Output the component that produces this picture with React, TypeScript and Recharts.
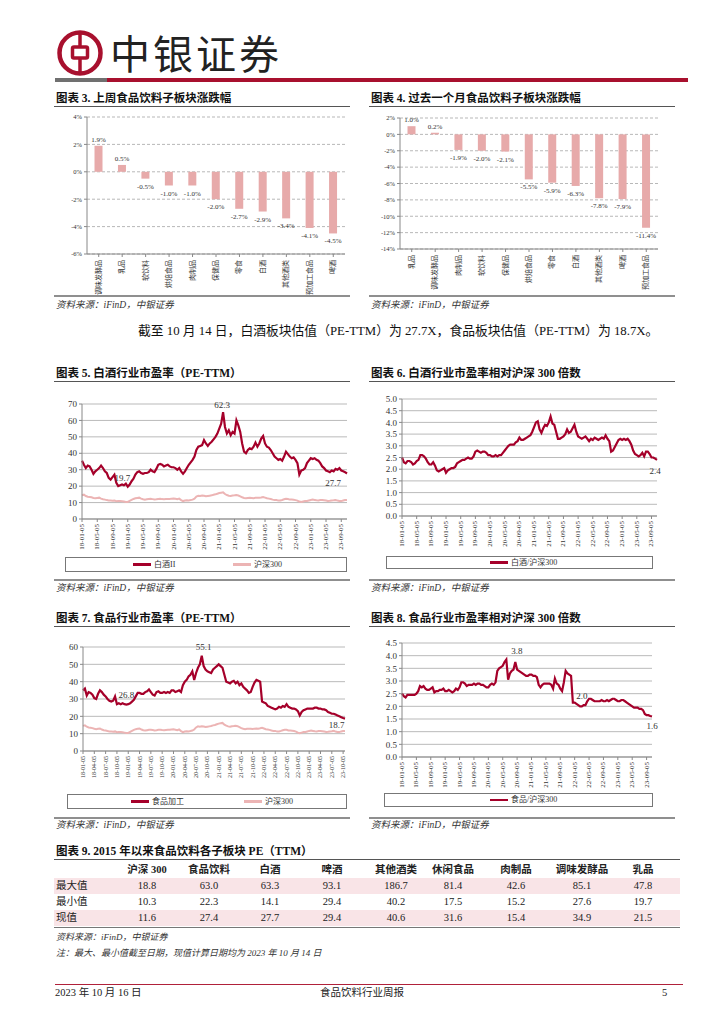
import React from "react";
import { BarChart, Bar, LineChart, Line, XAxis, YAxis, CartesianGrid } from "recharts";

const FONT = "'Liberation Serif', 'Noto Sans CJK SC', serif";
const RED = "#A8102E";
const LINE_RED = "#A5002A";
const LINE_PINK = "#ECB4B4";
const BAR_PINK = "#E7AAAA";

// 图表3 上周涨跌幅
const weekCats = ["调味发酵品", "乳品", "软饮料", "烘焙食品", "肉制品", "保健品", "零食", "白酒", "其他酒类", "预加工食品", "啤酒"];
const weekVals = [1.9, 0.5, -0.5, -1.0, -1.0, -2.0, -2.7, -2.9, -3.4, -4.1, -4.5];
const weekTicks = [-6, -4, -2, 0, 2, 4];

// 图表4 过去一个月涨跌幅
const monthCats = ["乳品", "调味发酵品", "肉制品", "软饮料", "保健品", "烘焙食品", "零食", "白酒", "其他酒类", "啤酒", "预加工食品"];
const monthVals = [1.0, 0.2, -1.9, -2.0, -2.1, -5.5, -5.9, -6.3, -7.8, -7.9, -11.4];
const monthTicks = [-14, -12, -10, -8, -6, -4, -2, 0, 2];

// 半月一个点, 2018-01 ~ 2023-10
const baijiuPE = [
  35.5, 33, 31, 32.5, 32, 30, 27.5, 29, 30, 31, 32.5, 31, 29, 28, 25, 24, 25.5, 27, 22, 20, 20.5, 21, 20.5, 21.5,
  19.7, 21, 23, 24.5, 27, 28.5, 29, 28, 27.5, 28, 28, 28.5, 30, 29, 28.5, 30.5, 33, 33.5, 33, 32, 32.5, 33, 32, 31.5,
  31.5, 31, 30, 31, 29, 27.5, 29, 31, 33, 34.5, 36, 38, 42, 44, 44.5, 45, 48, 46, 44.5, 46, 47, 48.5, 50, 52,
  55, 58, 65, 56, 52, 54, 51, 53, 52, 60, 57, 53, 46, 41, 40, 42, 43, 42.5, 44, 46.5, 44, 46, 49, 50.5,
  46, 44, 43.5, 42, 40, 38, 37, 36, 36.5, 35.5, 38, 41, 39.5, 38, 37, 37.5, 36, 34, 27, 29.5, 30, 31, 34, 35.5,
  37, 36.5, 37, 36, 35.5, 34, 32, 31, 29.5, 29, 28.5, 29.5, 29, 30.5, 30, 31, 29.5, 29, 28.5, 27.7,
];
const hs300PE = [
  14.5, 14.8, 14, 13.6, 13.4, 13.2, 12.8, 12.6, 12.8, 13, 12.4, 12, 11.8, 11.5, 11.3, 11.2, 11.1, 11.3, 10.8, 10.9, 11, 10.8, 10.6, 10.4,
  10.4, 11, 11.6, 12.2, 12.6, 12.8, 13, 12.4, 12, 11.8, 12, 12.2, 12.3, 12.1, 11.9, 12, 12.2, 12.3, 12.1, 12, 12.1, 12.2, 12.2, 12.4,
  12.5, 12.3, 12, 12.4, 11.5, 10.9, 11.2, 11.4, 11.3, 11.5, 11.8, 12.4, 13.6, 14.2, 14, 14.3, 14.1, 13.8, 14, 14.2, 14.4, 14.8, 15, 15.4,
  15.8, 16, 16.2, 15.2, 14.6, 14.2, 14, 14.3, 14.4, 14.6, 14.3, 13.8, 13.2, 12.8, 12.6, 12.8, 12.9, 12.8, 12.7, 12.9, 13, 12.9, 13.1, 13.4,
  13, 12.6, 12.4, 12.2, 11.8, 11.5, 11.6, 11.2, 11.3, 11.6, 12, 12.3, 12.2, 11.8, 11.8, 11.7, 11.5, 11.2, 10.6, 10.3, 10.6, 10.9, 11, 11.3,
  11.6, 11.8, 11.6, 11.4, 11.3, 11.5, 11.6, 11.4, 11.2, 11, 11.1, 11.3, 11.4, 11.6, 11.2, 11, 10.9, 11.3, 11.5, 11.6,
];
const baijiuRel = [
  2.5, 2.3, 2.25, 2.35, 2.35, 2.3, 2.2, 2.25, 2.35, 2.4, 2.6, 2.6, 2.55, 2.45, 2.3, 2.2, 2.2, 2.3, 2.15, 1.95, 1.9, 1.95, 2.0, 2.05,
  1.85, 1.95, 2.0, 2.05, 2.05, 2.1, 2.25, 2.3, 2.35, 2.4, 2.4, 2.45, 2.5, 2.45, 2.45, 2.55, 2.75, 2.8, 2.75, 2.7, 2.75, 2.75, 2.7, 2.6,
  2.6, 2.55, 2.55, 2.6, 2.55, 2.6, 2.6, 2.7, 2.8, 2.9, 3.0, 3.05, 3.05, 3.05, 3.15, 3.2, 3.35, 3.25, 3.25, 3.3, 3.35, 3.4, 3.45, 3.6,
  3.8, 4.0, 4.05, 3.7, 3.55, 3.75, 3.9, 3.85, 4.0, 4.25, 3.95, 3.9, 3.6, 3.3, 3.3, 3.35, 3.4, 3.5, 3.7, 3.55, 3.6, 3.75, 3.9, 3.6,
  3.4, 3.35, 3.3, 3.35, 3.4, 3.3, 3.2, 3.3, 3.25, 3.35, 3.3, 3.25, 3.3, 3.35, 3.3, 3.45, 3.3, 3.2, 2.75, 2.8, 2.95, 3.1, 3.25, 3.3,
  3.25, 3.3, 3.25, 3.3, 3.2, 3.05, 2.8, 2.65, 2.6, 2.55, 2.6, 2.7, 2.55, 2.75, 2.75, 2.65, 2.5, 2.5, 2.45, 2.4,
];
const foodPE = [
  35, 36, 32, 34, 33.5, 32.5, 30.5, 30, 33, 35, 34, 32.5, 31.5, 30, 29, 28.5, 29, 31.5, 27, 27.5, 27, 27.5, 27, 26.8,
  27, 27.5, 28.5, 29.5, 31.5, 33.5, 33.5, 33, 33, 34, 34.5, 35.5, 34, 32.5, 32, 34, 34.5, 33.5, 33.5, 34, 33.5, 34, 33.5, 35,
  35, 34, 34.5, 35, 34, 38, 40, 41, 43, 44, 46, 41, 45, 48, 50, 55, 49, 47, 46, 45.5, 45, 47, 48, 49,
  50, 49, 48, 44, 40, 39.5, 39, 40, 40.5, 39, 40, 38, 39, 37, 36, 35, 33.5, 34, 37, 39.5, 41, 40.5, 40, 28.5,
  28, 27.5, 26, 25.5, 25, 24.5, 24, 24.5, 25.5, 25, 26, 25.5, 27, 25.5, 25, 24.5, 24.5, 24, 23, 20.5, 22.5, 23.5, 24, 24.5,
  24.5, 24.5, 24.5, 25, 25, 24.5, 24.5, 24, 24, 23.5, 22.5, 22, 21.5, 21.5, 21, 20.5, 20, 19.5, 19, 18.7,
];
const foodRel = [
  2.5, 2.4, 2.35, 2.45, 2.45, 2.45, 2.45, 2.45, 2.5, 2.6, 2.8, 2.75, 2.8, 2.7, 2.65, 2.65, 2.7, 2.75, 2.55, 2.6, 2.6, 2.65, 2.65, 2.7,
  2.6, 2.6, 2.65, 2.6, 2.55, 2.6, 2.7, 2.65, 2.75, 2.95, 2.95, 2.9, 2.8, 2.85, 2.85, 2.85, 2.9, 2.85, 2.9, 2.9, 2.85, 2.85, 2.8, 2.75,
  2.75, 2.85, 2.9, 2.85, 2.95, 3.4, 3.5, 3.55, 3.6, 3.75, 3.85, 3.05, 3.3, 3.4, 3.45, 3.75, 3.45, 3.4, 3.35, 3.3, 3.25, 3.2, 3.2, 3.25,
  3.25, 3.2, 3.2, 3.15, 2.85, 2.75, 2.85, 2.9, 2.9, 2.9, 2.9, 2.85, 2.7, 3.1, 2.9, 2.85, 2.7, 2.6, 2.95, 3.4, 3.3, 3.25, 3.2, 2.15,
  2.15, 2.1, 2.05, 2.0, 2.0, 2.05, 2.05, 2.2, 2.3, 2.3, 2.25, 2.2, 2.2, 2.2, 2.2, 2.25, 2.2, 2.2, 2.25, 2.2, 2.25, 2.3, 2.3, 2.25,
  2.2, 2.2, 2.25, 2.25, 2.2, 2.15, 2.1, 2.05, 2.0, 1.95, 1.95, 1.95, 1.9, 1.9, 1.85, 1.7, 1.65, 1.65, 1.62, 1.6,
];

const ticks4m = ["18-01-05", "18-05-05", "18-09-05", "19-01-05", "19-05-05", "19-09-05", "20-01-05", "20-05-05", "20-09-05",
  "21-01-05", "21-05-05", "21-09-05", "22-01-05", "22-05-05", "22-09-05", "23-01-05", "23-05-05", "23-09-05"];
const ticks3m = ["18-01-05", "18-04-05", "18-07-05", "18-10-05", "19-01-05", "19-04-05", "19-07-05", "19-10-05",
  "20-01-05", "20-04-05", "20-07-05", "20-10-05", "21-01-05", "21-04-05", "21-07-05", "21-10-05",
  "22-01-05", "22-04-05", "22-07-05", "22-10-05", "23-01-05", "23-04-05", "23-07-05", "23-10-05"];

const peTicks70 = [0, 10, 20, 30, 40, 50, 60, 70];
const peTicks60 = [0, 10, 20, 30, 40, 50, 60];
const relTicks50 = [0, 0.5, 1, 1.5, 2, 2.5, 3, 3.5, 4, 4.5, 5];
const relTicks45 = [0, 0.5, 1, 1.5, 2, 2.5, 3, 3.5, 4, 4.5];

// 图表9
const tableCols = ["沪深 300", "食品饮料", "白酒", "啤酒", "其他酒类", "休闲食品", "肉制品", "调味发酵品", "乳品"];
const rowMax = ["18.8", "63.0", "63.3", "93.1", "186.7", "81.4", "42.6", "85.1", "47.8"];
const rowMin = ["10.3", "22.3", "14.1", "29.4", "40.2", "17.5", "15.2", "27.6", "19.7"];
const rowNow = ["11.6", "27.4", "27.7", "29.4", "40.6", "31.6", "15.4", "34.9", "21.5"];
const colX = [147, 209, 270, 332, 396, 453, 516, 582, 643];

const catTick = (p: any) => (
  <text x={p.x} y={p.y + 1} transform={`rotate(-90 ${p.x} ${p.y + 1})`} textAnchor="end"
    dominantBaseline="central" fontSize={7} fill="#333">{p.payload.value}</text>
);

const barLabel = (p: any) => {
  const v = Array.isArray(p.value) ? p.value[1] : p.value;
  const top = Math.min(p.y, p.y + p.height);
  const bot = Math.max(p.y, p.y + p.height);
  const y = v >= 0 ? top - 4 : bot + 10;
  return <text x={p.x + p.width / 2} y={y} textAnchor="middle" fontSize={7} fill="#333">{v.toFixed(1)}%</text>;
};

function ChangeBars({ left, top, width, height, margin, cats, vals, ticks }: any) {
  const data = cats.map((name: string, i: number) => ({ name, v: vals[i] }));
  return (
    <div style={{ position: "absolute", left, top }}>
      <BarChart width={width} height={height} data={data} margin={margin} barCategoryGap="32%" style={{ fontFamily: FONT }}>
        <CartesianGrid vertical={false} stroke="#9a9a9a" strokeDasharray="3 2" strokeWidth={0.7} />
        <XAxis dataKey="name" interval={0} height={45} axisLine={{ stroke: "#888" }} tickLine={{ stroke: "#888" }} tickSize={3} tick={catTick} />
        <YAxis width={30} domain={[ticks[0], ticks[ticks.length - 1]]} ticks={ticks} interval={0}
          tickFormatter={(v: number) => `${v}%`} tick={{ fontSize: 6.5, fill: "#333" }}
          axisLine={{ stroke: "#888" }} tickLine={{ stroke: "#888" }} tickSize={3} />
        <Bar dataKey="v" fill={BAR_PINK} isAnimationActive={false} label={barLabel} />
      </BarChart>
    </div>
  );
}

function PeChart({ left, top, width, height, margin, yWidth, xHeight, main, bench, yTicks, yFmt, xLabels, xStep, xFont, anns }: any) {
  const rows = main.map((v: number, i: number) => ({ t: i / 2, a: v, b: bench ? bench[i] : null }));
  const xPos = xLabels.map((_: string, i: number) => i * xStep);
  const dateTick = (p: any) => (
    <text x={p.x} y={p.y} transform={`rotate(-90 ${p.x} ${p.y})`} textAnchor="end" dominantBaseline="central"
      fontSize={xFont} fill="#333">{xLabels[Math.round(p.payload.value / xStep)]}</text>
  );
  const annLabel = (p: any) => {
    const a = anns.find((n: any) => n.i === p.index);
    if (!a) return null;
    return <text x={p.x + a.dx} y={p.y + a.dy} textAnchor="middle" fontSize={9} fill="#333">{a.text}</text>;
  };
  return (
    <div style={{ position: "absolute", left, top }}>
      <LineChart width={width} height={height} data={rows} margin={margin} style={{ fontFamily: FONT, overflow: "visible" }}>
        <CartesianGrid vertical={false} stroke="#8c8c8c" strokeWidth={0.6} />
        <XAxis type="number" dataKey="t" domain={[0, 69.5]} ticks={xPos} interval={0} height={xHeight}
          tick={dateTick} tickSize={3} axisLine={{ stroke: "#888" }} tickLine={{ stroke: "#888" }} />
        <YAxis width={yWidth} domain={[yTicks[0], yTicks[yTicks.length - 1]]} ticks={yTicks} interval={0}
          tickFormatter={yFmt} tick={{ fontSize: 9, fill: "#333" }} tickSize={3}
          axisLine={{ stroke: "#888" }} tickLine={{ stroke: "#888" }} />
        {bench && <Line type="linear" dataKey="b" stroke={LINE_PINK} strokeWidth={2} dot={false} isAnimationActive={false} />}
        <Line type="linear" dataKey="a" stroke={LINE_RED} strokeWidth={2.2} dot={false} isAnimationActive={false} label={annLabel} />
      </LineChart>
    </div>
  );
}

function LegendBox({ left, top, width, height, items }: any) {
  return (
    <div style={{ position: "absolute", left, top, width, height, border: "1px solid #777", boxSizing: "border-box" }}>
      {items.map((it: any) => (
        <React.Fragment key={it.text}>
          <div style={{ position: "absolute", left: it.x - left, top: height / 2 - 2.5, width: 18, height: 2.5, background: it.color }} />
          <div style={{ position: "absolute", left: it.x - left + 21, top: 0, lineHeight: `${height - 2}px`, fontSize: 8, color: "#333", whiteSpace: "nowrap" }}>{it.text}</div>
        </React.Fragment>
      ))}
    </div>
  );
}

function Title({ x, y, w, text }: any) {
  return (
    <>
      <div style={{ position: "absolute", left: x + 2, top: y - 8, lineHeight: "16px", fontSize: 11.5, fontWeight: 700, whiteSpace: "nowrap", color: "#111" }}>{text}</div>
      <div style={{ position: "absolute", left: x, top: y + 8, width: w, height: 1, background: "#555" }} />
    </>
  );
}

function Source({ x, y, w, ty }: any) {
  return (
    <>
      <div style={{ position: "absolute", left: x, top: y, width: w, height: 2, background: "#8f8f8f" }} />
      <div style={{ position: "absolute", left: x + 2, top: ty - 7, lineHeight: "14px", fontSize: 9.5, fontStyle: "italic", color: "#333", whiteSpace: "nowrap" }}>资料来源：iFinD，中银证券</div>
    </>
  );
}

export default function App() {
  return (
    <div style={{ position: "absolute", left: 0, top: 0, width: 724, height: 1024, background: "#fff", fontFamily: FONT, overflow: "hidden" }}>
      {/* header */}
      <svg style={{ position: "absolute", left: 57, top: 30 }} width={46} height={46}>
        <circle cx={23} cy={23} r={20.5} fill="none" stroke={RED} strokeWidth={4.5} />
        <rect x={15.5} y={17} width={15} height={11} rx={1.5} fill="none" stroke={RED} strokeWidth={3.5} />
        <line x1={23} y1={3} x2={23} y2={17} stroke={RED} strokeWidth={3.5} />
        <line x1={23} y1={28} x2={23} y2={43} stroke={RED} strokeWidth={3.5} />
      </svg>
      <div style={{ position: "absolute", left: 110, top: 28, fontSize: 40, lineHeight: "48px", letterSpacing: 3, color: "#222", fontFamily: "'Noto Sans CJK SC', sans-serif" }}>中银证券</div>
      <div style={{ position: "absolute", left: 55, top: 78, width: 52, height: 4, background: "#707070" }} />
      <div style={{ position: "absolute", left: 107, top: 78, width: 581, height: 4, background: RED }} />

      {/* 图表3 / 图表4 */}
      <Title x={54} y={97.7} w={296} text="图表 3. 上周食品饮料子板块涨跌幅" />
      <Title x={369} y={97.7} w={306} text="图表 4. 过去一个月食品饮料子板块涨跌幅" />
      <ChangeBars left={50} top={108} width={300} height={195} margin={{ top: 9, right: 5, left: 7, bottom: 4 }}
        cats={weekCats} vals={weekVals} ticks={weekTicks} />
      <ChangeBars left={365} top={108} width={298} height={190} margin={{ top: 10, right: 5, left: 5, bottom: 4 }}
        cats={monthCats} vals={monthVals} ticks={monthTicks} />
      <Source x={54} y={295} w={296} ty={305} />
      <Source x={369} y={295} w={306} ty={305} />

      <div style={{ position: "absolute", left: 138, top: 323, lineHeight: "16px", fontSize: 12.8, whiteSpace: "nowrap", color: "#111" }}>
        截至 10 月 14 日，白酒板块估值（PE-TTM）为 27.7X，食品板块估值（PE-TTM）为 18.7X。
      </div>

      {/* 图表5 / 图表6 */}
      <Title x={54} y={372.7} w={296} text="图表 5. 白酒行业市盈率（PE-TTM）" />
      <Title x={369} y={372.7} w={306} text="图表 6. 白酒行业市盈率相对沪深 300 倍数" />
      <PeChart left={50} top={395} width={300} height={160} margin={{ top: 9, right: 3, left: 6, bottom: 2 }}
        yWidth={26} xHeight={34} main={baijiuPE} bench={hs300PE} yTicks={peTicks70} yFmt={(v: number) => `${v}`}
        xLabels={ticks4m} xStep={4} xFont={7}
        anns={[{ i: 74, text: "62.3", dx: -1, dy: -4 }, { i: 24, text: "19.7", dx: -5.5, dy: -6 }, { i: 139, text: "27.7", dx: -14, dy: 13 }]} />
      <PeChart left={365} top={390} width={306} height={162} margin={{ top: 9, right: 14, left: 7, bottom: 2 }}
        yWidth={30} xHeight={34} main={baijiuRel} yTicks={relTicks50} yFmt={(v: number) => v.toFixed(1)}
        xLabels={ticks4m} xStep={4} xFont={7}
        anns={[{ i: 139, text: "2.4", dx: -2, dy: 14 }]} />
      <LegendBox left={65} top={557} width={282} height={15}
        items={[{ x: 132, color: LINE_RED, text: "白酒II" }, { x: 232, color: LINE_PINK, text: "沪深300" }]} />
      <LegendBox left={386} top={556} width={267} height={13}
        items={[{ x: 489, color: LINE_RED, text: "白酒/沪深300" }]} />
      <Source x={54} y={579} w={296} ty={588} />
      <Source x={369} y={579} w={306} ty={588} />

      {/* 图表7 / 图表8 */}
      <Title x={54} y={617.7} w={296} text="图表 7. 食品行业市盈率（PE-TTM）" />
      <Title x={369} y={617.7} w={306} text="图表 8. 食品行业市盈率相对沪深 300 倍数" />
      <PeChart left={50} top={638} width={300} height={143} margin={{ top: 9, right: 5, left: 7, bottom: 2 }}
        yWidth={26} xHeight={28} main={foodPE} bench={hs300PE} yTicks={peTicks60} yFmt={(v: number) => `${v}`}
        xLabels={ticks3m} xStep={3} xFont={6}
        anns={[{ i: 63, text: "55.1", dx: 2, dy: -6 }, { i: 23, text: "26.8", dx: 0, dy: -7 }, { i: 139, text: "18.7", dx: -8.5, dy: 9.5 }]} />
      <PeChart left={365} top={634} width={306} height={159} margin={{ top: 9, right: 19, left: 7, bottom: 2 }}
        yWidth={30} xHeight={34} main={foodRel} yTicks={relTicks45} yFmt={(v: number) => v.toFixed(1)}
        xLabels={ticks4m} xStep={4} xFont={7}
        anns={[{ i: 63, text: "3.8", dx: 1.6, dy: -8 }, { i: 100, text: "2.0", dx: 0, dy: -7 }, { i: 139, text: "1.6", dx: 0, dy: 13 }]} />
      <LegendBox left={67} top={794} width={280} height={15}
        items={[{ x: 130, color: LINE_RED, text: "食品加工" }, { x: 243, color: LINE_PINK, text: "沪深300" }]} />
      <LegendBox left={384} top={793} width={269} height={14}
        items={[{ x: 489, color: LINE_RED, text: "食品/沪深300" }]} />
      <Source x={54} y={817} w={296} ty={825} />
      <Source x={369} y={817} w={306} ty={825} />

      {/* 图表9 table */}
      <Title x={54} y={851} w={626} text="图表 9. 2015 年以来食品饮料各子板块 PE（TTM）" />
      {[{ label: "", vals: tableCols, y: 862, bg: "#fff", bold: true },
        { label: "最大值", vals: rowMax, y: 878, bg: "#F9E4E7", bold: false },
        { label: "最小值", vals: rowMin, y: 894, bg: "#fff", bold: false },
        { label: "现值", vals: rowNow, y: 910, bg: "#F9E4E7", bold: false }].map((r) => (
        <div key={r.y} style={{ position: "absolute", left: 54, top: r.y, width: 626, height: 16, background: r.bg }}>
          <div style={{ position: "absolute", left: 2, top: 0, lineHeight: "16px", fontSize: 10.5, color: "#222" }}>{r.label}</div>
          {r.vals.map((v: string, j: number) => (
            <div key={j} style={{ position: "absolute", left: colX[j] - 54 - 40, width: 80, top: 0, lineHeight: "16px", textAlign: "center",
              fontSize: 10.5, fontWeight: r.bold ? 700 : 400, color: "#222" }}>{v}</div>
          ))}
        </div>
      ))}
      <div style={{ position: "absolute", left: 54, top: 927, width: 626, height: 1, background: "#777" }} />
      <div style={{ position: "absolute", left: 56, top: 930, lineHeight: "14px", fontSize: 9, fontStyle: "italic", color: "#333" }}>资料来源：iFinD，中银证券</div>
      <div style={{ position: "absolute", left: 56, top: 946, lineHeight: "14px", fontSize: 9, fontStyle: "italic", color: "#333" }}>注：最大、最小值截至日期，现值计算日期均为 2023 年 10 月 14 日</div>

      {/* footer */}
      <div style={{ position: "absolute", left: 55, top: 984, width: 628, height: 1, background: "#B0213A" }} />
      <div style={{ position: "absolute", left: 55, top: 986, lineHeight: "14px", fontSize: 10.5, color: "#222" }}>2023 年 10 月 16 日</div>
      <div style={{ position: "absolute", left: 262, width: 200, top: 986, lineHeight: "14px", fontSize: 10.5, color: "#222", textAlign: "center" }}>食品饮料行业周报</div>
      <div style={{ position: "absolute", left: 662, top: 986, lineHeight: "14px", fontSize: 10.5, color: "#222" }}>5</div>
    </div>
  );
}
